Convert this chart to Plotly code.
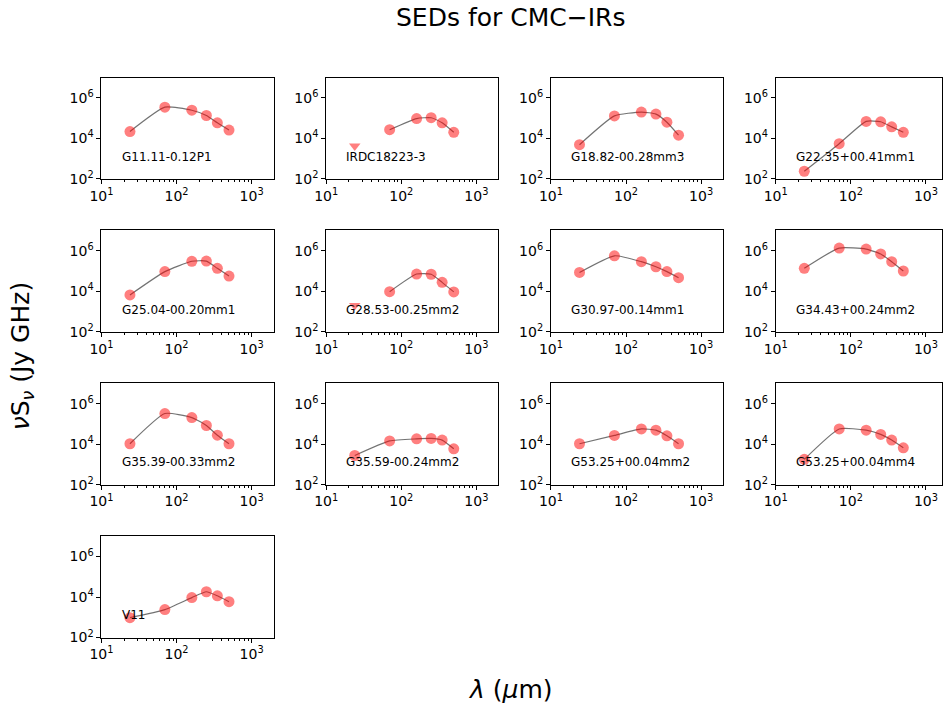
import numpy as np
import plotly.graph_objects as go

wavelengths = [24, 70, 160, 250, 350, 500]
names = ["G11.11-0.12P1", "IRDC18223-3", "G18.82-00.28mm3", "G22.35+00.41mm1",
         "G25.04-00.20mm1", "G28.53-00.25mm2", "G30.97-00.14mm1", "G34.43+00.24mm2",
         "G35.39-00.33mm2", "G35.59-00.24mm2", "G53.25+00.04mm2", "G53.25+00.04mm4",
         "V11"]
# log10(nu S_nu) values
log_flux = [
    [4.34, 5.54, 5.39, 5.13, 4.77, 4.41],
    [3.62, 4.43, 4.98, 5.02, 4.77, 4.30],
    [3.69, 5.11, 5.30, 5.20, 4.80, 4.16],
    [2.38, 3.74, 4.84, 4.82, 4.57, 4.30],
    [3.82, 4.97, 5.48, 5.49, 5.13, 4.75],
    [3.30, 3.98, 4.85, 4.84, 4.44, 3.97],
    [4.93, 5.75, 5.46, 5.21, 4.97, 4.67],
    [5.13, 6.13, 6.08, 5.84, 5.46, 5.00],
    [4.02, 5.51, 5.31, 4.92, 4.44, 4.02],
    [3.44, 4.16, 4.26, 4.28, 4.20, 3.77],
    [4.02, 4.43, 4.75, 4.69, 4.41, 4.02],
    [3.25, 4.75, 4.69, 4.48, 4.20, 3.82],
    [2.98, 3.38, 3.97, 4.26, 4.06, 3.77],
]
# True where the 24 um point is an upper limit
upper_limit_24 = [False, True, False, False, False, True, False, False,
                  False, False, False, False, False]

W, H = 943, 706
# empirical correction of the page photograph
SC, OX, OY = 0.985, 14.0, 1.0


def fx(px):
    return (px - OX) / SC / W


def fy(py):
    return 1 - (py - OY) / SC / H


fig = go.Figure()
red = "rgba(255,0,0,0.5)"

for i, name in enumerate(names):
    r, c = divmod(i, 4)
    left = 103.3 + 224.5 * c
    right = left + 172
    top = 78.3 + 152.3 * r
    bottom = top + 101
    d0, d1 = fx(left), min(fx(right), 1.0)
    xr_hi = 1 + (d1 - d0) * W * SC / 75.0
    xa = "x" if i == 0 else f"x{i+1}"
    ya = "y" if i == 0 else f"y{i+1}"
    xl = "xaxis" if i == 0 else f"xaxis{i+1}"
    yl = "yaxis" if i == 0 else f"yaxis{i+1}"
    vals = [10 ** v for v in log_flux[i]]
    if upper_limit_24[i]:
        lx, ly = wavelengths[1:], vals[1:]
        fig.add_trace(go.Scatter(x=[wavelengths[0]], y=[vals[0]], mode="markers",
                                 marker=dict(symbol="triangle-down", size=10, color=red),
                                 xaxis=xa, yaxis=ya, showlegend=False))
    else:
        lx, ly = wavelengths, vals
    fig.add_trace(go.Scatter(x=lx, y=ly, mode="lines",
                             line=dict(color="rgba(90,90,90,0.85)", width=1.2, shape="spline", smoothing=0.5),
                             xaxis=xa, yaxis=ya, showlegend=False))
    fig.add_trace(go.Scatter(x=lx, y=ly, mode="markers",
                             marker=dict(size=11, color=red, line=dict(width=0)),
                             xaxis=xa, yaxis=ya, showlegend=False))
    minor_vals = [k * 10 ** d for d in (1, 2, 3) for k in range(2, 10)]
    fig.layout[xl] = dict(type="log", domain=[d0, d1], range=[1, xr_hi],
                          anchor=ya, showgrid=False, zeroline=False,
                          showline=True, mirror=True, linecolor="black", linewidth=1,
                          ticks="outside", ticklen=4, tickcolor="black",
                          tickvals=[10, 100, 1000],
                          ticktext=["10<sup>1</sup>", "10<sup>2</sup>", "10<sup>3</sup>"],
                          tickfont=dict(size=14, color="black", family="DejaVu Sans"),
                          minor=dict(tickvals=minor_vals, ticks="outside", ticklen=2, tickcolor="black"))
    fig.layout[yl] = dict(type="log", domain=[fy(bottom), fy(top)], range=[2, 7],
                          anchor=xa, showgrid=False, zeroline=False,
                          showline=True, mirror=True, linecolor="black", linewidth=1,
                          ticks="outside", ticklen=4, tickcolor="black",
                          tickvals=[1e2, 1e4, 1e6],
                          ticktext=["10<sup>2</sup>", "10<sup>4</sup>", "10<sup>6</sup>"],
                          tickfont=dict(size=14, color="black", family="DejaVu Sans"))
    fig.add_annotation(x=np.log10(17.5), y=3.1, xref=xa, yref=ya, text=name,
                       showarrow=False, xanchor="left", yanchor="middle",
                       font=dict(size=12, color="black", family="DejaVu Sans"))

fig.add_annotation(x=fx(512), y=fy(18), xref="paper", yref="paper",
                   text="SEDs for CMC\u2212IRs", showarrow=False,
                   xanchor="center", yanchor="middle",
                   font=dict(size=25, color="black", family="DejaVu Sans"))
fig.add_annotation(x=fx(512), y=fy(688), xref="paper", yref="paper",
                   text="<i>λ</i> (<i>μ</i>m)", showarrow=False,
                   xanchor="center", yanchor="middle",
                   font=dict(size=25, color="black", family="DejaVu Sans"))
fig.add_annotation(x=fx(24), y=fy(356), xref="paper", yref="paper",
                   text="<i>ν</i>S<sub><i>ν</i></sub> (Jy GHz)", showarrow=False, textangle=-90,
                   xanchor="center", yanchor="middle",
                   font=dict(size=25, color="black", family="DejaVu Sans"))

fig.update_layout(width=W, height=H, margin=dict(l=0, r=0, t=0, b=0),
                  plot_bgcolor="white", paper_bgcolor="white")
fig.write_html("out.html", config={"responsive": False, "displayModeBar": False},
               post_script="document.body.style.margin='0';document.body.style.overflow='hidden';")
